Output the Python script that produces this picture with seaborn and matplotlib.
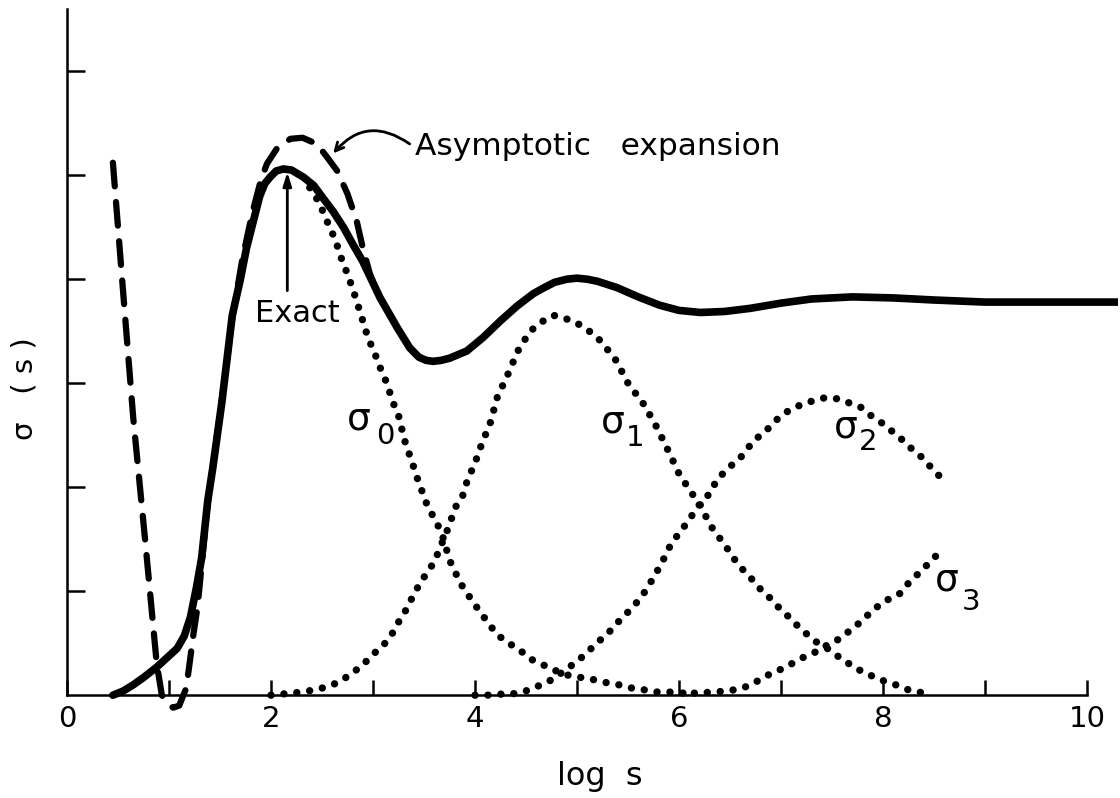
import matplotlib
matplotlib.use("Agg")
import matplotlib.pyplot as plt
import seaborn as sns

# ---------------- data ----------------
exact_x = [0.45, 0.55, 0.65, 0.75, 0.88, 0.98, 1.08, 1.15, 1.21, 1.27, 1.32, 1.38, 1.43, 1.52, 1.62,
           1.70, 1.76, 1.83, 1.89, 1.94, 1.99, 2.05, 2.12, 2.20, 2.32, 2.42, 2.51, 2.61, 2.71, 2.80,
           2.90, 3.07, 3.24, 3.36, 3.45, 3.52, 3.59, 3.67, 3.75, 3.92, 4.08, 4.25, 4.41, 4.57, 4.68,
           4.78, 4.90, 5.00, 5.10, 5.20, 5.39, 5.60, 5.81, 6.00, 6.21, 6.45, 6.70, 7.00, 7.30, 7.70,
           8.10, 8.50, 9.00, 9.50, 10.00, 10.30]
exact_y = [0.00, 0.04, 0.10, 0.17, 0.27, 0.36, 0.45, 0.57, 0.75, 1.04, 1.32, 1.87, 2.19, 2.83, 3.65,
           4.00, 4.30, 4.57, 4.80, 4.92, 4.98, 5.04, 5.06, 5.05, 4.98, 4.90, 4.78, 4.65, 4.50, 4.34,
           4.17, 3.82, 3.53, 3.34, 3.25, 3.22, 3.21, 3.22, 3.24, 3.31, 3.44, 3.60, 3.74, 3.86, 3.92,
           3.97, 4.00, 4.01, 4.00, 3.98, 3.92, 3.83, 3.75, 3.70, 3.68, 3.69, 3.72, 3.77, 3.81, 3.83,
           3.82, 3.80, 3.78, 3.78, 3.78, 3.78]

asym_x = [0.45, 0.55, 0.65, 0.77, 0.88, 0.93, 0.98, 1.04, 1.10, 1.17, 1.24, 1.28, 1.32, 1.38, 1.43,
          1.52, 1.62, 1.72, 1.82, 1.90, 1.96, 2.06, 2.19, 2.31, 2.45, 2.56, 2.65, 2.75, 2.84, 2.90,
          2.97, 3.05]
asym_y = [5.12, 3.88, 2.66, 1.45, 0.30, 0.00, -0.08, -0.12, -0.10, 0.07, 0.59, 0.85, 1.25, 1.85, 2.20,
          2.85, 3.62, 4.20, 4.65, 4.95, 5.11, 5.26, 5.35, 5.36, 5.30, 5.16, 5.04, 4.82, 4.56, 4.30,
          4.05, 3.85]

sigma0_x = [2.38, 2.41, 2.48, 2.53, 2.58, 2.63, 2.70, 2.75, 2.80, 2.84, 2.90, 2.95, 3.02, 3.07, 3.14,
            3.19, 3.25, 3.31, 3.40, 3.44, 3.53, 3.60, 3.67, 3.73, 3.77, 3.88, 3.95, 4.05, 4.21, 4.31,
            4.42, 4.54, 4.65, 4.76, 4.87, 5.04, 5.16, 5.29, 5.41, 5.53, 5.67, 5.79, 5.92, 6.05]
sigma0_y = [4.88, 4.84, 4.72, 4.60, 4.49, 4.38, 4.17, 4.05, 3.91, 3.79, 3.60, 3.44, 3.28, 3.15, 2.99,
            2.83, 2.69, 2.45, 2.19, 2.07, 1.83, 1.70, 1.57, 1.37, 1.25, 1.04, 0.94, 0.80, 0.59, 0.51,
            0.45, 0.35, 0.30, 0.25, 0.20, 0.17, 0.15, 0.12, 0.10, 0.07, 0.05, 0.03, 0.03, 0.02]

sigma1_x = [2.00, 2.10, 2.20, 2.30, 2.42, 2.55, 2.65, 2.75, 2.86, 2.95, 3.04, 3.13, 3.20, 3.26, 3.33,
            3.38, 3.44, 3.51, 3.60, 3.73, 3.81, 3.88, 3.92, 4.01, 4.06, 4.15, 4.22, 4.32, 4.42, 4.54,
            4.71, 4.78, 4.85, 4.96, 5.08, 5.20, 5.37, 5.50, 5.66, 5.78, 5.89, 6.00, 6.12, 6.23, 6.28,
            6.35, 6.44, 6.50, 6.57, 6.66, 6.75, 6.83, 6.90, 6.99, 7.08, 7.16, 7.25, 7.35, 7.44, 7.55,
            7.64, 7.73, 7.88, 8.00, 8.10, 8.22, 8.33, 8.47]
sigma1_y = [0.00, 0.01, 0.02, 0.03, 0.05, 0.08, 0.12, 0.18, 0.26, 0.34, 0.43, 0.51, 0.61, 0.72, 0.83,
            0.93, 1.04, 1.15, 1.28, 1.59, 1.81, 1.92, 2.05, 2.26, 2.40, 2.62, 2.87, 3.08, 3.31, 3.50,
            3.63, 3.65, 3.63, 3.60, 3.53, 3.44, 3.24, 3.00, 2.79, 2.58, 2.36, 2.13, 1.95, 1.80, 1.68,
            1.57, 1.46, 1.37, 1.27, 1.17, 1.08, 0.98, 0.93, 0.83, 0.75, 0.67, 0.59, 0.51, 0.46, 0.38,
            0.32, 0.26, 0.19, 0.14, 0.11, 0.06, 0.03, 0.02]

sigma2_x = [4.00, 4.12, 4.23, 4.35, 4.47, 4.60, 4.72, 4.84, 4.98, 5.09, 5.19, 5.29, 5.40, 5.52, 5.63,
            5.75, 5.83, 5.91, 6.00, 6.09, 6.18, 6.31, 6.37, 6.49, 6.60, 6.66, 6.75, 6.86, 6.97, 7.08,
            7.19, 7.31, 7.43, 7.56, 7.67, 7.78, 7.88, 8.00, 8.11, 8.22, 8.29, 8.39, 8.48, 8.59]
sigma2_y = [0.00, 0.00, 0.01, 0.01, 0.03, 0.08, 0.13, 0.21, 0.31, 0.40, 0.50, 0.58, 0.70, 0.82, 0.94,
            1.13, 1.27, 1.43, 1.56, 1.67, 1.81, 1.95, 2.07, 2.19, 2.28, 2.36, 2.46, 2.55, 2.66, 2.74,
            2.79, 2.83, 2.86, 2.85, 2.81, 2.77, 2.69, 2.61, 2.52, 2.43, 2.36, 2.28, 2.18, 2.07]

sigma3_x = [6.15, 6.33, 6.47, 6.59, 6.71, 6.84, 6.96, 7.10, 7.23, 7.35, 7.45, 7.57, 7.70, 7.80, 7.90,
            8.03, 8.17, 8.26, 8.37, 8.48, 8.58]
sigma3_y = [0.02, 0.03, 0.04, 0.06, 0.10, 0.18, 0.23, 0.30, 0.37, 0.42, 0.48, 0.54, 0.64, 0.72, 0.82,
            0.91, 0.98, 1.09, 1.19, 1.30, 1.40]

x_ticks = [0, 1, 2, 3, 4, 5, 6, 7, 8, 9, 10]
x_tick_labels = ["0", "", "2", "", "4", "", "6", "", "8", "", "10"]
y_ticks = [1, 2, 3, 4, 5, 6]

# ---------------- style ----------------
sns.set_style("ticks")
plt.rcParams["font.family"] = ["DejaVu Sans"]
for key in ["text.color", "xtick.color", "ytick.color", "axes.labelcolor",
            "xtick.labelcolor", "ytick.labelcolor", "axes.edgecolor"]:
    plt.rcParams[key] = "black"

W, H = 1120, 798
fig = plt.figure(figsize=(W / 100, H / 100), dpi=100)
fig.patch.set_facecolor("white")
# data x=0 at px 67, 102 px per unit; data y=0 at px 695, 104 px per unit
ax = fig.add_axes([67 / W, (H - 794) / H, 10.3 * 102 / W, 7.55 * 104 / H])
ax.set_facecolor("white")
ax.set_xlim(0, 10.3)
ax.set_ylim(-0.95, 6.6)

dots = dict(color="black", lw=5.3, linestyle=(0, (0.01, 1.75)), dash_capstyle="round",
            sort=False, estimator=None)
for sx, sy in [(sigma0_x, sigma0_y), (sigma1_x, sigma1_y), (sigma2_x, sigma2_y), (sigma3_x, sigma3_y)]:
    sns.lineplot(x=sx, y=sy, ax=ax, **dots)

sns.lineplot(x=asym_x, y=asym_y, ax=ax, color="black", lw=4.5, linestyle=(0, (3.8, 2.5)),
             dash_capstyle="round", sort=False, estimator=None)
sns.lineplot(x=exact_x, y=exact_y, ax=ax, color="black", lw=5.5, solid_capstyle="round",
             solid_joinstyle="round", sort=False, estimator=None)

# ---------------- axes ----------------
for s in ["top", "right"]:
    ax.spines[s].set_visible(False)
ax.spines["bottom"].set_position(("data", 0))
ax.spines["bottom"].set_bounds(0, 10)
ax.spines["left"].set_bounds(0, 6.6)
for s in ["bottom", "left"]:
    ax.spines[s].set_linewidth(1.8)
    ax.spines[s].set_color("black")

ax.set_xticks(x_ticks)
ax.set_xticklabels(x_tick_labels)
ax.set_yticks(y_ticks)
ax.set_yticklabels([])
ax.tick_params(axis="x", direction="in", length=11, width=1.8, labelsize=21, pad=7,
               colors="black")
ax.tick_params(axis="y", direction="in", length=13, width=1.8, colors="black")

ax.set_xlabel("log  s", fontsize=23, color="black")
ax.xaxis.set_label_coords((600 - 67) / (10.3 * 102), (794 - 785) / (7.55 * 104))
ax.xaxis.label.set_va("baseline")
ax.set_ylabel("")
fig.text(25 / W, 1 - 389 / H, "σ   ( s )", rotation=90, ha="center", va="center",
         fontsize=21, color="black")

# ---------------- annotations ----------------
ax.text(1.84, 3.59, "Exact", fontsize=22, ha="left", va="baseline")
ax.annotate("", xy=(2.16, 5.03), xytext=(2.16, 3.89),
            arrowprops=dict(arrowstyle="-|>,head_length=0.8,head_width=0.25", lw=2, color="black",
                            shrinkA=0, shrinkB=0))
ax.text(3.41, 5.19, "Asymptotic   expansion", fontsize=22.5, ha="left", va="baseline")
ax.annotate("", xy=(2.61, 5.21), xytext=(3.36, 5.30),
            arrowprops=dict(arrowstyle="->,head_length=0.6,head_width=0.3", lw=2, color="black",
                            connectionstyle="arc3,rad=0.45", shrinkA=0, shrinkB=0))

def sigma_label(sx, sy, dx, dy, digit):
    ax.text(sx, sy, "σ", fontsize=27, ha="left", va="baseline")
    ax.text(dx, dy, digit, fontsize=21, ha="left", va="baseline")

sigma_label(2.74, 2.55, 3.03, 2.42, "0")
sigma_label(5.23, 2.53, 5.48, 2.40, "1")
sigma_label(7.52, 2.48, 7.76, 2.36, "2")
sigma_label(8.51, 1.01, 8.77, 0.82, "3")

fig.savefig("out.png", dpi=100, facecolor="white")
